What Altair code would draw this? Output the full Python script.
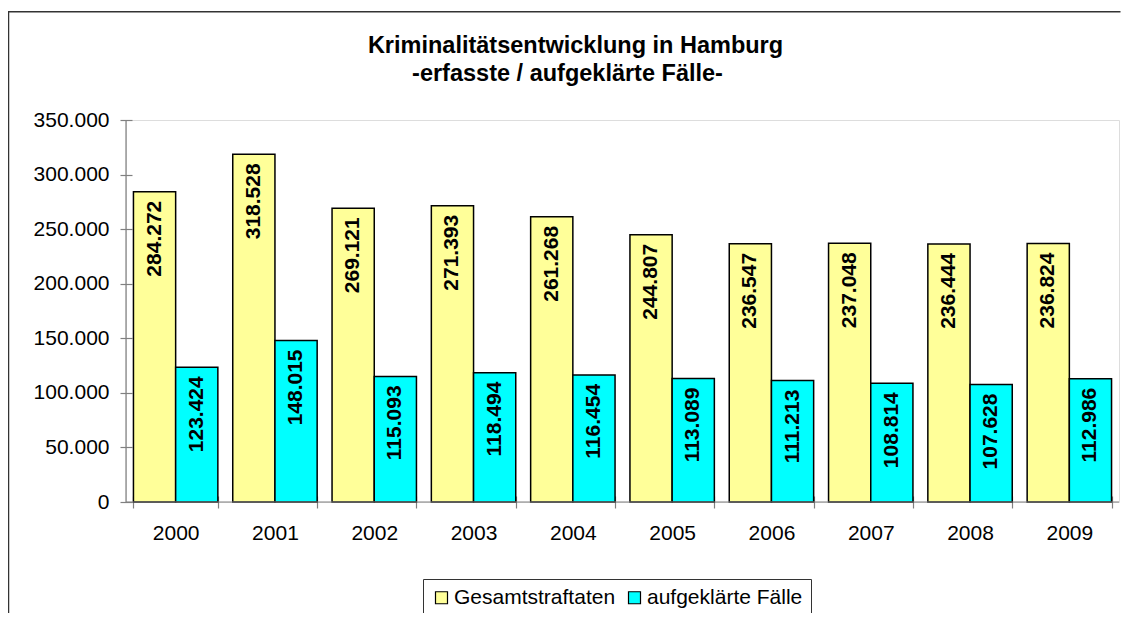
import altair as alt
import pandas as pd

years = ["2000", "2001", "2002", "2003", "2004", "2005", "2006", "2007", "2008", "2009"]
gesamt = [284272, 318528, 269121, 271393, 261268, 244807, 236547, 237048, 236444, 236824]
aufgeklaert = [123424, 148015, 115093, 118494, 116454, 113089, 111213, 108814, 107628, 112986]
series = ["Gesamtstraftaten", "aufgeklärte Fälle"]
colors = ["#FFFF99", "#00FFFF"]
y_ticks = [0, 50000, 100000, 150000, 200000, 250000, 300000, 350000]
title_lines = ["Kriminalitätsentwicklung in Hamburg", "-erfasste / aufgeklärte Fälle-"]

rows = []
for i, yr in enumerate(years):
    for s, vals in zip(series, [gesamt, aufgeklaert]):
        v = vals[i]
        rows.append({"Jahr": yr, "Serie": s, "Wert": v,
                     "Label": f"{v:,}".replace(",", ".")})
df = pd.DataFrame(rows)
one = pd.DataFrame({"k": [0]})

W, H = 993, 382
FONT = "Liberation Sans"

x_enc = alt.X(
    "Jahr:N", sort=years,
    scale=alt.Scale(paddingInner=0.15, paddingOuter=0.075),
    axis=alt.Axis(title=None, labelAngle=0, labelFontSize=21, labelFont=FONT,
                  labelColor="black", domain=False, tickBand="extent",
                  tickSize=12, offset=-6, tickColor="#808080", tickWidth=1.2,
                  labelPadding=14, grid=False),
)
xoff_enc = alt.XOffset("Serie:N", sort=series,
                       scale=alt.Scale(paddingInner=0, paddingOuter=0))
y_enc = alt.Y(
    "Wert:Q",
    scale=alt.Scale(domain=[0, 350000], nice=False),
    axis=alt.Axis(title=None, values=y_ticks, grid=False, domain=False,
                  tickSize=12, offset=-6, tickColor="#808080", tickWidth=1.2,
                  labelExpr="replace(format(datum.value, ','), ',', '.')",
                  labelFontSize=21, labelFont=FONT, labelColor="black",
                  labelPadding=11),
)

bars = alt.Chart(df).mark_bar(stroke="black", strokeWidth=1.5).encode(
    x=x_enc,
    xOffset=xoff_enc,
    y=y_enc,
    color=alt.Color(
        "Serie:N", sort=series,
        scale=alt.Scale(domain=series, range=colors),
        legend=alt.Legend(
            title=None, orient="none", legendX=297, legendY=459,
            direction="horizontal", columns=2,
            labelFontSize=21, labelFont=FONT, labelColor="black", labelLimit=0,
            symbolType="square", symbolSize=144,
            symbolStrokeColor="black", symbolStrokeWidth=1.2,
            strokeColor="#333333", padding=8, labelOffset=2,
            columnPadding=8, fillColor="white",
        ),
    ),
)

labels = alt.Chart(df).mark_text(
    angle=270, align="right", baseline="middle", dx=-9,
    fontSize=21, fontWeight="bold", font=FONT, color="black",
).encode(x=x_enc, xOffset=xoff_enc, y=y_enc, text="Label:N")

y_domain = alt.Chart(one).mark_rule(color="#808080", strokeWidth=1.2).encode(
    x=alt.value(0), y=alt.value(0), y2=alt.value(H))
x_domain = alt.Chart(one).mark_rule(color="#808080", strokeWidth=1.2).encode(
    x=alt.value(0), x2=alt.value(W), y=alt.value(H))

title1 = alt.Chart(one).mark_text(
    text=title_lines[0], fontSize=23.5, fontWeight="bold", font=FONT,
    align="center", baseline="alphabetic", color="black",
).encode(x=alt.value(449.5), y=alt.value(-67))
title2 = alt.Chart(one).mark_text(
    text=title_lines[1], fontSize=23.5, fontWeight="bold", font=FONT,
    align="center", baseline="alphabetic", color="black",
).encode(x=alt.value(441.5), y=alt.value(-39))

# chart-area frame (only left and top edges fall inside the picture)
frame_left = alt.Chart(one).mark_rule(color="#333333", strokeWidth=1.5).encode(
    x=alt.value(-117.5), y=alt.value(-109), y2=alt.value(520))
frame_top = alt.Chart(one).mark_rule(color="#333333", strokeWidth=1.5).encode(
    x=alt.value(-118.2), x2=alt.value(994.5), y=alt.value(-108.3))

chart = alt.layer(frame_left, frame_top, bars, labels, y_domain, x_domain,
                  title1, title2).properties(
    width=W, height=H,
    autosize=alt.AutoSizeParams(type="none"),
    padding={"left": 118, "top": 112, "right": 2, "bottom": 111},
).configure_view(strokeWidth=0).configure(background="white")

chart.save("out.html", embed_options={"renderer": "svg", "actions": False})
